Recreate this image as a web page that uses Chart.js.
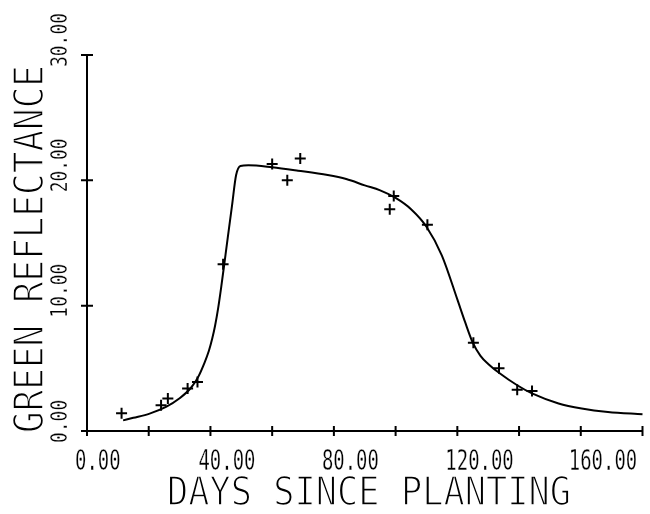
<!DOCTYPE html>
<html>
<head>
<meta charset="utf-8">
<title>Green reflectance</title>
<script src="https://cdn.jsdelivr.net/npm/chart.js@4.4.1/dist/chart.umd.min.js"></script>
<style>
  html, body { margin: 0; padding: 0; background: #fff; }
  canvas { display: block; }
</style>
</head>
<body>
<canvas id="myChart" width="650" height="514"></canvas>
<script>
// measured points (crosses)
const obsDays = [11.2, 24.0, 26.2, 32.6, 35.8, 44.1, 60.0, 64.9, 69.1, 98.1, 99.4, 110.3, 125.2, 133.5, 139.4, 144.2];
const obsReflectance = [1.42, 2.05, 2.6, 3.4, 3.9, 13.3, 21.3, 20.0, 21.75, 17.7, 18.75, 16.45, 7.05, 5.0, 3.3, 3.2];

// fitted curve
const fitDays = [11.7, 15, 20.3, 25.6, 29.9, 33.7, 36, 38, 39.5, 40.6, 41.5, 42.5, 43.5, 44.9, 47.0, 48.3, 49.7, 52.3, 60, 68.4, 78, 84, 90, 95, 100, 105, 110, 115, 120, 122.5, 125, 127.5, 130, 133.5, 139.4, 144.2, 152.8, 160.3, 168.8, 180];
const fitReflectance = [0.85, 1.05, 1.39, 1.92, 2.59, 3.45, 4.3, 5.4, 6.4, 7.4, 8.4, 9.8, 11.5, 14.1, 18.0, 20.4, 21.15, 21.2, 21.04, 20.77, 20.42, 20.1, 19.6, 19.2, 18.6, 17.7, 16.3, 14.0, 10.5, 8.7, 7.05, 6.0, 5.35, 4.65, 3.65, 3.0, 2.2, 1.8, 1.52, 1.33];

const xTickValues = [0, 20, 40, 60, 80, 100, 120, 140, 160, 180];
const xLabelValues = [0, 40, 80, 120, 160];
const yTickValues = [0, 10, 20, 30];
const xTitle = "DAYS SINCE PLANTING";
const yTitle = "GREEN REFLECTANCE";

const FONT = "'DejaVu Sans Mono', monospace";

function start() {
  designChart();
}

// draw text squeezed to a given width, like the old plotter lettering
function drawStretched(ctx, text, x, y, capHeight, width, angle, thin) {
  ctx.save();
  ctx.font = (capHeight / 0.73).toFixed(1) + "px " + FONT;
  const natural = ctx.measureText(text).width;
  ctx.translate(x, y);
  ctx.rotate(angle);
  ctx.scale(width / natural, 1);
  ctx.textAlign = "left";
  ctx.textBaseline = "alphabetic";
  ctx.fillStyle = "#000";
  ctx.fillText(text, 0, 0);
  if (thin) {
    // thin the strokes a little, plotter pen is finer
    ctx.strokeStyle = "#fff";
    ctx.lineWidth = thin;
    ctx.strokeText(text, 0, 0);
  }
  ctx.restore();
}

const plotterAxes = {
  id: "plotterAxes",
  afterDraw(chart) {
    const ctx = chart.ctx;
    const xs = chart.scales.x;
    const ys = chart.scales.y;
    const x0 = xs.getPixelForValue(0);
    const y0 = ys.getPixelForValue(0);
    ctx.save();
    ctx.strokeStyle = "#000";
    ctx.lineWidth = 2;
    ctx.beginPath();
    ctx.moveTo(x0, y0);
    ctx.lineTo(xs.getPixelForValue(180), y0);
    ctx.moveTo(x0, y0);
    ctx.lineTo(x0, ys.getPixelForValue(30));
    // ticks cross the axis
    xTickValues.forEach((v) => {
      const px = xs.getPixelForValue(v);
      ctx.moveTo(px, y0 - 5);
      ctx.lineTo(px, y0 + 5);
    });
    yTickValues.forEach((v) => {
      const py = ys.getPixelForValue(v);
      ctx.moveTo(x0 - 6, py);
      ctx.lineTo(x0 + 6, py);
    });
    ctx.stroke();
    ctx.restore();

    xLabelValues.forEach((v) => {
      const text = v.toFixed(2);
      drawStretched(ctx, text, xs.getPixelForValue(v) - 12, 470, 21, text.length * 11.4, 0, 0.3);
    });
    yTickValues.forEach((v) => {
      const text = v.toFixed(2);
      drawStretched(ctx, text, 67, ys.getPixelForValue(v) + 12, 17, text.length * 10.8, -Math.PI / 2, 0.3);
    });
    drawStretched(ctx, xTitle, 167, 505, 29, 404, 0, 1.5);
    drawStretched(ctx, yTitle, 43, 433, 30, 368, -Math.PI / 2, 1.5);
  },
};

function designChart() {
  const ctx = document.getElementById("myChart").getContext("2d");
  const fitData = fitDays.map((d, i) => ({ x: d, y: fitReflectance[i] }));
  const obsData = obsDays.map((d, i) => ({ x: d, y: obsReflectance[i] }));
  new Chart(ctx, {
    type: "scatter",
    data: {
      datasets: [
        {
          label: "Fit",
          data: fitData,
          showLine: true,
          borderColor: "#000",
          borderWidth: 2,
          pointRadius: 0,
          cubicInterpolationMode: "monotone",
          clip: false,
        },
        {
          label: "Observed",
          data: obsData,
          pointStyle: "cross",
          pointRadius: 5.5,
          borderWidth: 2,
          borderColor: "#000",
          clip: false,
        },
      ],
    },
    options: {
      responsive: false,
      animation: false,
      layout: { padding: { top: 55, right: 2, left: 0, bottom: 0 } },
      scales: {
        x: {
          type: "linear",
          min: 0,
          max: 180,
          grid: { display: false },
          border: { display: false },
          ticks: { display: false },
          afterFit: (s) => { s.height = 83; },
        },
        y: {
          min: 0,
          max: 30,
          grid: { display: false },
          border: { display: false },
          ticks: { display: false },
          afterFit: (s) => { s.width = 87; },
        },
      },
      plugins: {
        legend: { display: false },
        tooltip: { enabled: false },
        title: { display: false },
      },
    },
    plugins: [plotterAxes],
  });
}

start();
</script>
</body>
</html>
